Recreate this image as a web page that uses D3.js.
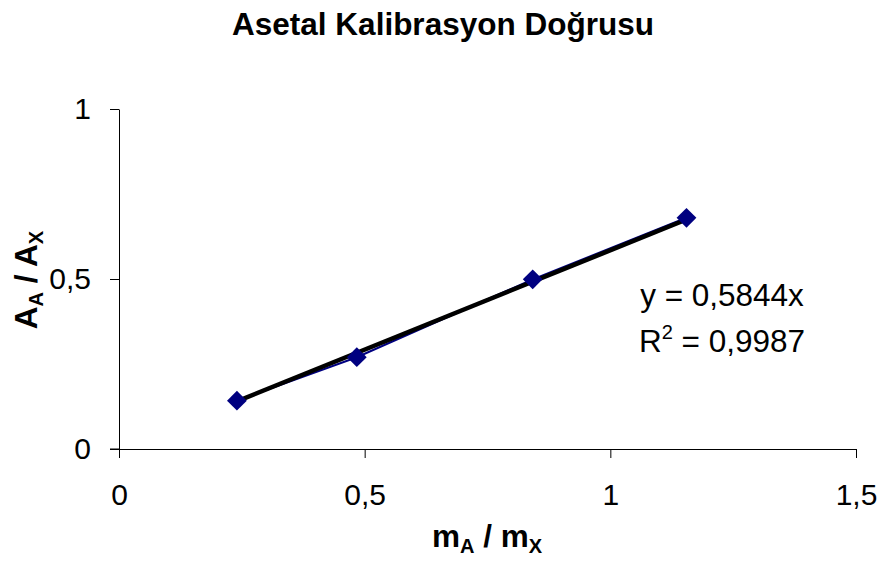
<!DOCTYPE html>
<html>
<head>
<meta charset="utf-8">
<script src="https://cdn.jsdelivr.net/npm/d3@7"></script>
<style>
  body { margin: 0; background: #fff; }
  text { font-family: "Liberation Sans", Arial, sans-serif; }
</style>
</head>
<body>
<svg id="chart" width="883" height="561"></svg>
<script>
const ratioX = [0.240, 0.484, 0.842, 1.155];
const ratioY = [0.142, 0.270, 0.499, 0.680];
const xTicks = [0, 0.5, 1, 1.5];
const yTicks = [0, 0.5, 1];
const slope = 0.5844;
const r2 = '0,9987';

const svg = d3.select('#chart');
const margin = { top: 109, right: 27, bottom: 112, left: 119 };
const width = +svg.attr('width');
const height = +svg.attr('height');
const innerWidth = width - margin.left - margin.right;
const innerHeight = height - margin.top - margin.bottom;
const fmt = d => String(d).replace('.', ',');

const x = d3.scaleLinear().domain([0, 1.5]).range([0, innerWidth]);
const y = d3.scaleLinear().domain([0, 1]).range([innerHeight, 0]);

const g = svg.append('g')
    .attr('transform', `translate(${margin.left},${margin.top})`);

// axes
const xAxis = g.append('g')
    .attr('transform', `translate(0,${innerHeight})`)
    .call(d3.axisBottom(x).tickValues(xTicks).tickFormat(fmt).tickSize(9).tickSizeOuter(0).tickPadding(26));
const yAxis = g.append('g')
    .call(d3.axisLeft(y).tickValues(yTicks).tickFormat(fmt).tickSize(9).tickSizeOuter(0).tickPadding(19));
[xAxis, yAxis].forEach(a => {
    a.select('.domain').attr('stroke', '#000').attr('stroke-width', 1);
    a.selectAll('.tick line').attr('stroke', '#000');
    a.selectAll('.tick text').attr('font-size', 30).attr('fill', '#000')
        .style('font-family', '"Liberation Sans", Arial, sans-serif');
});
// x axis line continues left past the y axis
g.append('line')
    .attr('x1', -9).attr('x2', 0)
    .attr('y1', innerHeight).attr('y2', innerHeight)
    .attr('stroke', '#000');

const pts = ratioX.map((d, i) => ({ x: d, y: ratioY[i] }));

// series line
g.append('path')
    .datum(pts)
    .attr('fill', 'none')
    .attr('stroke', '#000080')
    .attr('stroke-width', 2)
    .attr('d', d3.line().x(d => x(d.x)).y(d => y(d.y)));

// trendline
const xs = d3.extent(ratioX);
g.append('line')
    .attr('x1', x(xs[0])).attr('y1', y(slope * xs[0]))
    .attr('x2', x(xs[1])).attr('y2', y(slope * xs[1]))
    .attr('stroke', '#000').attr('stroke-width', 4.5);

// markers
g.selectAll('.pt')
    .data(pts).enter()
    .append('path')
    .attr('class', 'pt')
    .attr('transform', d => `translate(${x(d.x)},${y(d.y)})`)
    .attr('d', d3.symbol().type(d3.symbolDiamond2).size(250))
    .attr('fill', '#000080');

// equation
svg.append('text')
    .attr('x', 722).attr('y', 306)
    .attr('text-anchor', 'middle')
    .attr('font-size', 31.5)
    .text('y = ' + fmt(slope) + 'x');
const rt = svg.append('text')
    .attr('x', 722).attr('y', 352)
    .attr('text-anchor', 'middle')
    .attr('font-size', 31.5);
rt.append('tspan').text('R');
rt.append('tspan').attr('font-size', 20).attr('dy', -13).text('2');
rt.append('tspan').attr('dy', 13).text(' = ' + r2);

// title
svg.append('text')
    .attr('x', 443).attr('y', 35)
    .attr('text-anchor', 'middle')
    .attr('font-size', 31.5).attr('font-weight', 'bold')
    .text('Asetal Kalibrasyon Doğrusu');

// x title
const xt = svg.append('text')
    .attr('x', 487).attr('y', 547)
    .attr('text-anchor', 'middle')
    .attr('font-size', 31.5).attr('font-weight', 'bold');
xt.append('tspan').text('m');
xt.append('tspan').attr('font-size', 20).attr('dy', 6).text('A');
xt.append('tspan').attr('dy', -6).text(' / m');
xt.append('tspan').attr('font-size', 20).attr('dy', 6).text('X');

// y title
const yt = svg.append('text')
    .attr('transform', 'translate(37,280) rotate(-90)')
    .attr('text-anchor', 'middle')
    .attr('font-size', 31.5).attr('font-weight', 'bold');
yt.append('tspan').text('A');
yt.append('tspan').attr('font-size', 20).attr('dy', 6).text('A');
yt.append('tspan').attr('dy', -6).text(' / A');
yt.append('tspan').attr('font-size', 20).attr('dy', 6).text('X');
</script>
</body>
</html>
